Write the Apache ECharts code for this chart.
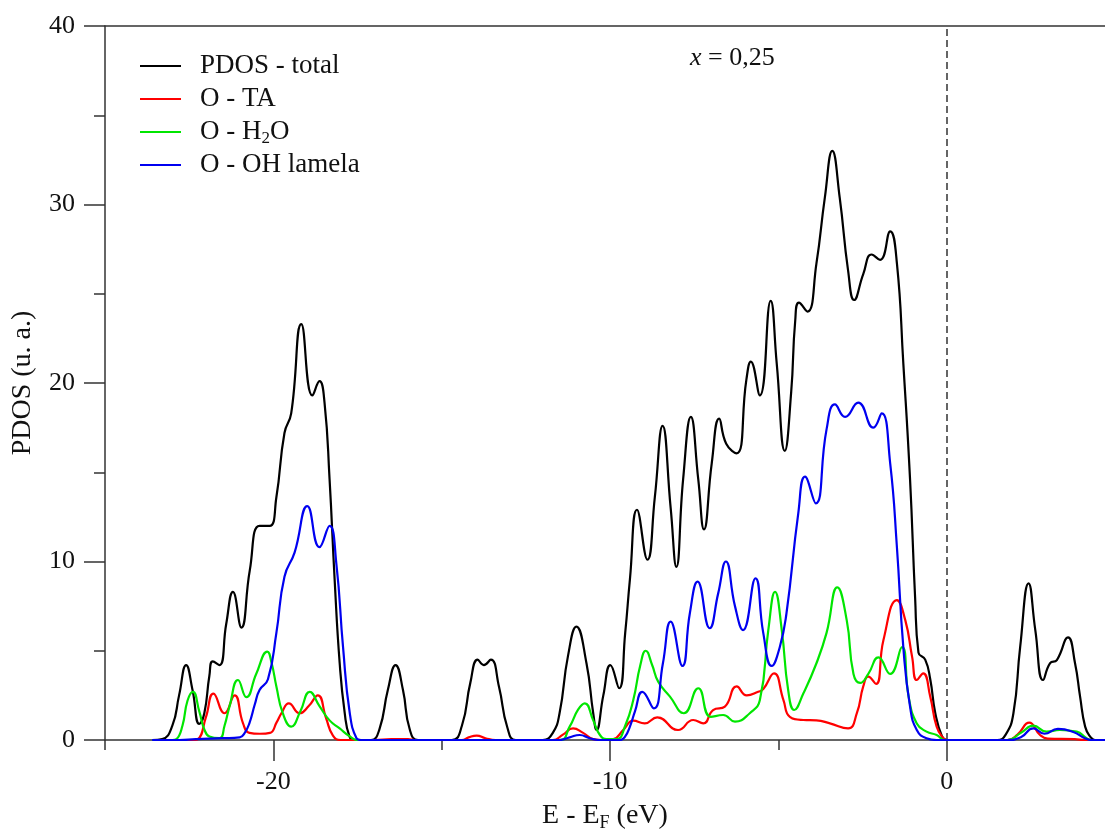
<!DOCTYPE html>
<html>
<head>
<meta charset="utf-8">
<title>PDOS</title>
<script src="https://cdn.jsdelivr.net/npm/echarts@6/dist/echarts.min.js"></script>
<style>
  html, body { margin: 0; padding: 0; background: #fff; }
  #chart { width: 1105px; height: 830px; }
</style>
</head>
<body>
<div id="chart"></div>
<script>
// Projected density of states, energies relative to the Fermi level (eV)
const seriesNames = ['PDOS - total', 'O - TA', 'O - H2O', 'O - OH lamela'];
const majorTicks = [-20, -10, 0];
const minorTicks = [-25, -15, -5];
const yTicks = [0, 10, 20, 30, 40];

const pdosTotal = [
  [-23.6,0],[-23.3,0.05],[-23.0,0.8],[-22.8,2.5],[-22.59,4.2],[-22.4,2.8],[-22.2,0.9],[-22.05,1.5],[-21.9,3.6],
  [-21.8,4.4],[-21.6,4.2],[-21.4,6.5],[-21.2,8.3],[-20.95,6.3],[-20.7,9.5],[-20.41,12.0],[-20.11,12.0],
  [-19.91,13.6],[-19.67,17.2],[-19.47,18.3],[-19.17,23.3],[-18.84,19.3],[-18.63,20.1],[-18.48,18.9],
  [-18.33,14.6],[-18.18,9.0],[-18.03,4.3],[-17.88,1.5],[-17.74,0.2],[-17.6,0],
  [-17.1,0],[-16.85,0.6],[-16.6,2.8],[-16.37,4.2],[-16.15,2.8],[-15.95,0.6],[-15.7,0],
  [-14.7,0],[-14.4,0.8],[-14.15,3.2],[-13.93,4.5],[-13.75,4.2],[-13.54,4.5],[-13.3,3.0],[-13.05,0.7],[-12.8,0],
  [-12.0,0],[-11.7,0.4],[-11.5,1.5],[-11.25,4.7],[-11.0,6.35],[-10.7,4.3],[-10.5,1.5],[-10.4,0.56],[-10.2,2.5],
  [-9.99,4.2],[-9.73,2.9],[-9.55,6.0],[-9.41,9.0],[-9.2,12.9],[-8.89,10.1],[-8.67,13.6],[-8.44,17.6],
  [-8.2,13.0],[-8.03,9.7],[-7.83,14.6],[-7.6,18.1],[-7.38,14.6],[-7.21,11.8],[-6.98,15.5],[-6.76,18.0],
  [-6.55,16.6],[-6.24,16.06],[-5.95,20.2],[-5.82,21.2],[-5.55,19.3],[-5.23,24.6],[-5.05,21.1],[-4.81,16.2],
  [-4.62,19.5],[-4.5,23.5],[-4.39,24.5],[-4.14,24.0],[-3.87,26.7],[-3.62,30.4],[-3.4,33.0],[-3.18,30.4],
  [-2.93,26.3],[-2.75,24.65],[-2.48,26.1],[-2.23,27.2],[-1.98,26.9],[-1.68,28.5],[-1.48,26.7],[-1.29,21.1],
  [-1.09,14.6],[-0.94,8.0],[-0.84,4.9],[-0.64,4.5],[-0.49,3.4],[-0.34,1.5],[-0.14,0.2],[0,0],
  [1.5,0],[1.75,0.3],[1.98,1.5],[2.18,5.2],[2.43,8.78],[2.63,6.16],[2.86,3.36],[3.07,4.3],[3.27,4.48],
  [3.6,5.75],[3.81,4.3],[3.96,2.43],[4.11,0.75],[4.26,0.19],[4.4,0],[4.7,0]
];

const oTA = [
  [-23.6,0],[-22.4,0],[-22.24,0.05],[-22.0,1.3],[-21.78,2.6],[-21.45,1.5],[-21.15,2.5],[-20.9,0.93],[-20.71,0.4],
  [-20.4,0.35],[-20.1,0.4],[-19.9,1.0],[-19.76,1.5],[-19.54,2.05],[-19.22,1.5],[-18.95,1.9],[-18.68,2.5],
  [-18.43,1.2],[-18.23,0.25],[-18.0,0],
  [-17.0,0],[-16.5,0.05],[-16.0,0.05],[-15.8,0],
  [-14.4,0],[-14.2,0.15],[-13.96,0.25],[-13.7,0.1],[-13.4,0],
  [-11.7,0],[-11.4,0.3],[-11.1,0.65],[-10.8,0.4],[-10.5,0.05],[-10.2,0],[-9.9,0.05],[-9.61,0.56],[-9.31,1.08],
  [-8.97,0.93],[-8.6,1.27],[-7.98,0.56],[-7.53,1.12],[-7.23,0.93],[-6.94,1.68],[-6.59,1.87],[-6.24,3.0],
  [-5.94,2.5],[-5.6,2.7],[-5.45,2.85],[-5.13,3.73],[-4.85,2.24],[-4.66,1.3],[-4.26,1.12],[-3.87,1.1],
  [-3.47,0.93],[-2.93,0.65],[-2.67,1.5],[-2.48,3.0],[-2.33,3.55],[-2.1,3.14],[-1.88,5.6],[-1.48,7.84],
  [-1.23,6.7],[-1.03,4.67],[-0.89,3.36],[-0.7,3.73],[-0.49,2.43],[-0.3,0.75],[-0.1,0.1],[0,0],
  [1.8,0],[2.1,0.3],[2.45,0.97],[2.77,0.28],[3.0,0.08],[3.8,0.05],[4.1,0],[4.7,0]
];

const oH2O = [
  [-23.6,0],[-23.0,0],[-22.88,0.05],[-22.7,0.8],[-22.55,2.2],[-22.39,2.7],[-22.2,1.6],[-22.05,0.6],[-21.9,0.2],
  [-21.6,0.1],[-21.45,0.8],[-21.3,1.9],[-21.05,3.36],[-20.8,2.4],[-20.51,3.7],[-20.18,4.95],[-20.05,4.3],
  [-19.91,3.0],[-19.72,1.5],[-19.47,0.75],[-19.2,1.6],[-18.92,2.7],[-18.63,1.9],[-18.33,1.1],[-18.03,0.65],
  [-17.73,0.2],[-17.5,0],
  [-11.5,0],[-11.2,0.75],[-10.95,1.7],[-10.75,2.05],[-10.5,1.1],[-10.3,0.28],[-10.1,0.05],[-9.8,0.05],
  [-9.55,0.8],[-9.31,2.24],[-9.1,4.2],[-8.94,5.0],[-8.75,4.2],[-8.57,3.27],[-8.22,2.43],[-7.81,1.5],
  [-7.38,2.9],[-7.01,1.3],[-6.64,1.4],[-6.29,1.03],[-5.85,1.5],[-5.55,2.24],[-5.3,6.16],[-5.1,8.3],
  [-4.9,6.16],[-4.71,2.8],[-4.53,1.68],[-4.26,2.6],[-3.87,4.3],[-3.57,6.0],[-3.25,8.55],[-2.97,6.7],
  [-2.77,3.7],[-2.57,3.2],[-2.33,3.7],[-2.03,4.63],[-1.68,3.7],[-1.33,5.2],[-1.13,2.4],[-0.89,0.93],
  [-0.6,0.47],[-0.3,0.28],[-0.05,0],
  [1.8,0],[2.2,0.4],[2.57,0.8],[2.96,0.47],[3.36,0.56],[3.86,0.47],[4.15,0.1],[4.3,0],[4.7,0]
];

const oOHLamela = [
  [-23.6,0],[-22.8,0],[-22.3,0.05],[-21.5,0.1],[-21.0,0.15],[-20.85,0.4],[-20.71,0.95],[-20.55,2.0],[-20.41,2.8],
  [-20.16,3.4],[-19.91,6.0],[-19.67,9.15],[-19.37,10.5],[-18.99,13.1],[-18.63,10.8],[-18.33,12.0],
  [-18.13,9.9],[-17.93,5.2],[-17.73,1.5],[-17.53,0.1],[-17.4,0],
  [-11.5,0],[-11.2,0.15],[-10.9,0.28],[-10.6,0.1],[-10.3,0],[-9.7,0],[-9.55,0.2],[-9.41,0.75],[-9.26,1.6],
  [-9.04,2.7],[-8.7,1.77],[-8.43,4.3],[-8.2,6.63],[-7.85,4.15],[-7.63,7.1],[-7.4,8.87],[-7.04,6.26],
  [-6.79,8.2],[-6.56,10.0],[-6.29,7.5],[-6.05,6.16],[-5.68,9.06],[-5.45,6.0],[-5.2,4.15],[-4.96,5.2],
  [-4.76,7.1],[-4.41,12.7],[-4.21,14.75],[-3.89,13.26],[-3.57,17.4],[-3.32,18.8],[-3.02,18.1],[-2.63,18.9],
  [-2.18,17.5],[-1.93,18.3],[-1.68,15.5],[-1.48,10.8],[-1.29,5.2],[-1.09,1.87],[-0.89,0.56],[-0.6,0.1],[-0.3,0],
  [1.8,0],[2.2,0.15],[2.57,0.65],[2.9,0.35],[3.3,0.62],[3.76,0.45],[4.1,0.1],[4.3,0],[4.7,0]
];

const FONT = '"Liberation Serif", "Times New Roman", serif';
const AXIS_COLOR = '#333';
const colors = ['#000000', '#ff0000', '#00e600', '#0000f0'];
const seriesData = [pdosTotal, oTA, oH2O, oOHLamela];

const chart = echarts.init(document.getElementById('chart'), null, { renderer: 'canvas' });

const lineSeries = seriesNames.map((name, i) => ({
  name: name,
  type: 'line',
  data: seriesData[i],
  smooth: 0.5,
  showSymbol: false,
  symbol: 'none',
  silent: true,
  lineStyle: { color: colors[i], width: 2.2 },
  itemStyle: { color: colors[i] },
  z: 3 + i
}));

// Fermi level marker
lineSeries[0].markLine = {
  silent: true,
  symbol: 'none',
  label: { show: false },
  lineStyle: { type: [7, 4], color: AXIS_COLOR, width: 1.5 },
  data: [{ xAxis: 0 }]
};

const option = {
  backgroundColor: '#ffffff',
  animation: false,
  grid: { left: 105, right: 0, top: 26, bottom: 90, outerBoundsMode: 'none' },
  legend: {
    orient: 'vertical',
    left: 135,
    top: 46,
    itemWidth: 41,
    itemHeight: 2,
    itemGap: 3,
    icon: 'rect',
    selectedMode: false,
    data: seriesNames,
    formatter: name => name === 'O - H2O' ? 'O - H{sub|2}O' : name,
    textStyle: {
      fontFamily: FONT,
      fontSize: 27,
      color: '#111',
      lineHeight: 30,
      padding: [0, 0, 0, 14],
      rich: {
        sub: { fontFamily: FONT, fontSize: 17, color: '#111', lineHeight: 1, verticalAlign: 'bottom', padding: [6, 0, 0, 0] }
      }
    }
  },
  xAxis: [
    {
      type: 'value',
      min: -25,
      max: 4.7,
      position: 'bottom',
      axisLine: { show: true, onZero: false, lineStyle: { color: AXIS_COLOR, width: 1.5 } },
      axisTick: { show: true, customValues: majorTicks, length: 21, lineStyle: { color: AXIS_COLOR, width: 1.5 } },
      axisLabel: { customValues: majorTicks, margin: 29, fontFamily: FONT, fontSize: 26, color: '#111' },
      splitLine: { show: false },
      name: 'E - E{sub|F} (eV)',
      nameLocation: 'middle',
      nameGap: 59,
      nameTextStyle: {
        fontFamily: FONT, fontSize: 28, color: '#111', lineHeight: 32,
        rich: { sub: { fontFamily: FONT, fontSize: 18, color: '#111', lineHeight: 2, verticalAlign: 'bottom' } }
      }
    },
    {
      type: 'value',
      min: -25,
      max: 4.7,
      position: 'bottom',
      axisLine: { show: false, onZero: false },
      axisTick: { show: true, customValues: minorTicks, length: 10, lineStyle: { color: AXIS_COLOR, width: 1.5 } },
      axisLabel: { show: false },
      splitLine: { show: false }
    },
    {
      type: 'value',
      min: -25,
      max: 4.7,
      position: 'top',
      axisLine: { show: true, onZero: false, lineStyle: { color: AXIS_COLOR, width: 1.5 } },
      axisTick: { show: false },
      axisLabel: { show: false },
      splitLine: { show: false }
    }
  ],
  yAxis: {
    type: 'value',
    min: yTicks[0],
    max: yTicks[yTicks.length - 1],
    interval: 10,
    axisLine: { show: true, onZero: false, lineStyle: { color: AXIS_COLOR, width: 1.5 } },
    axisTick: { show: true, length: 21, lineStyle: { color: AXIS_COLOR, width: 1.5 } },
    minorTick: { show: true, splitNumber: 2, length: 11, lineStyle: { color: AXIS_COLOR, width: 1.5 } },
    axisLabel: { margin: 30, fontFamily: FONT, fontSize: 26, color: '#111' },
    splitLine: { show: false },
    name: 'PDOS (u. a.)',
    nameLocation: 'middle',
    nameGap: 68,
    nameTextStyle: { fontFamily: FONT, fontSize: 28, color: '#111' }
  },
  graphic: [
    {
      type: 'text',
      left: 690,
      top: 45,
      silent: true,
      style: {
        text: '{i|x} = 0,25',
        fontFamily: FONT,
        fontSize: 26,
        fill: '#111',
        rich: { i: { fontFamily: FONT, fontSize: 26, fontStyle: 'italic', color: '#111' } }
      }
    }
  ],
  series: lineSeries
};

chart.setOption(option);
</script>
</body>
</html>
